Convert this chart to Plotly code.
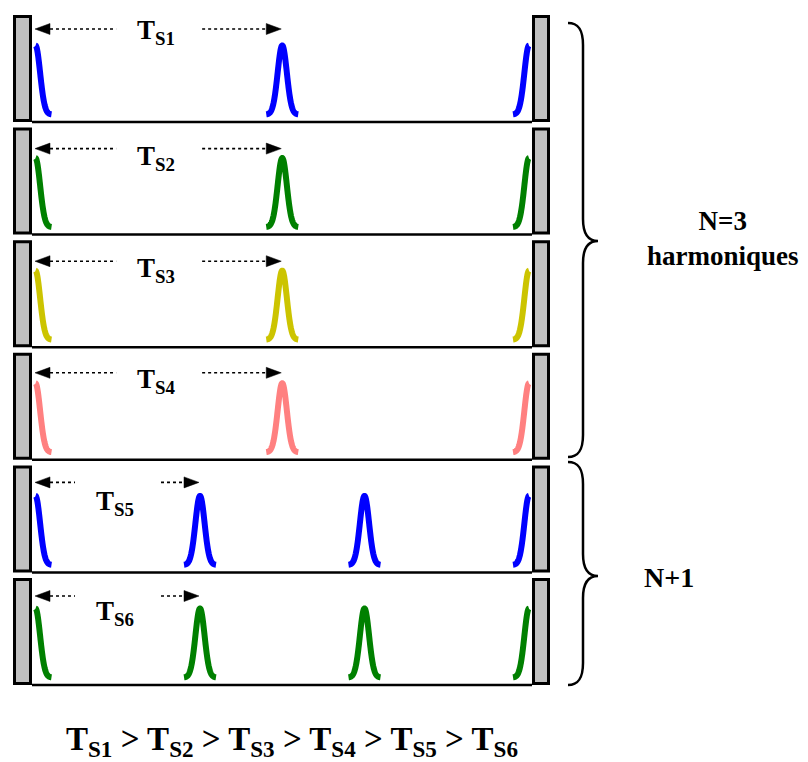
import numpy as np
import plotly.graph_objects as go

# ---------------- data ----------------
row_labels = ["T<sub>S1</sub>", "T<sub>S2</sub>", "T<sub>S3</sub>", "T<sub>S4</sub>", "T<sub>S5</sub>", "T<sub>S6</sub>"]
row_colors = ["#0000FF", "#008000", "#CCC400", "#FF8080", "#0000FF", "#008000"]
# pulse positions as fraction of the cavity length
half_pos = [0.0, 0.5, 1.0]
third_pos = [0.0, 1 / 3, 2 / 3, 1.0]
row_pulses = [half_pos, half_pos, half_pos, half_pos, third_pos, third_pos]
group_labels = ["N=3<br>harmoniques", "N+1"]
bottom_text = "T<sub>S1</sub> > T<sub>S2</sub> > T<sub>S3</sub> > T<sub>S4</sub> > T<sub>S5</sub> > T<sub>S6</sub>"

# ---------------- geometry ----------------
W, H = 808, 762
row_top0, row_pitch, row_h = 15, 112.6, 107
mirL = (13, 32)
mirR = (532, 550)
cav0, cav1 = 35.5, 529
arrow_dy = [14, 21, 21, 20, 17, 18]
label_dy = [17, 30, 30, 28, 38, 35]
peak_top, peak_base = 30.5, 99.5
sigma, foot = 4.6, 16

fig = go.Figure()
shapes = []
annotations = []


def pulse(c, side):
    if side == "L":
        dx = np.linspace(0, foot, 80)
    elif side == "R":
        dx = np.linspace(-foot, 0, 80)
    else:
        dx = np.linspace(-foot, foot, 160)
    return c + dx, np.exp(-dx ** 2 / (2 * sigma ** 2))


for i, (lab, col, pos) in enumerate(zip(row_labels, row_colors, row_pulses)):
    top = row_top0 + row_pitch * i
    bot = top + row_h
    # pulses
    for p in pos:
        c = cav0 + p * (cav1 - cav0)
        side = "L" if p == 0 else ("R" if p == 1 else "C")
        xs, g = pulse(c, side)
        ys = top + peak_base - g * (peak_base - peak_top)
        fig.add_trace(go.Scatter(x=xs, y=ys, mode="lines",
                                 line=dict(color=col, width=6, simplify=False),
                                 hoverinfo="skip", showlegend=False))
    # baseline of cavity
    shapes.append(dict(type="line", x0=mirL[1], x1=mirR[0], y0=bot, y1=bot,
                       line=dict(color="black", width=2.5), layer="above"))
    # mirrors
    for m in (mirL, mirR):
        shapes.append(dict(type="rect", x0=m[0] + 1.5, x1=m[1] - 1.5, y0=top + 1.5, y1=bot - 1.5,
                           fillcolor="#C0C0C0", line=dict(color="black", width=3), layer="above"))
    # arrow from the mirror to the first pulse
    x_first = cav0 + pos[1] * (cav1 - cav0)
    xa, xb = 35, x_first - 1
    ya = top + arrow_dy[i]
    gc = (xa + xb) / 2 + 1
    hl, hw = 15, 5.5
    shapes.append(dict(type="path", path=f"M {xa},{ya} L {xa+hl},{ya-hw} L {xa+hl},{ya+hw} Z",
                       fillcolor="black", line=dict(color="black", width=0.5)))
    shapes.append(dict(type="path", path=f"M {xb},{ya} L {xb-hl},{ya-hw} L {xb-hl},{ya+hw} Z",
                       fillcolor="black", line=dict(color="black", width=0.5)))
    shapes.append(dict(type="line", x0=xa + hl, x1=gc - 43, y0=ya, y1=ya,
                       line=dict(color="black", width=1.6, dash="dot")))
    shapes.append(dict(type="line", x0=gc + 43, x1=xb - hl, y0=ya, y1=ya,
                       line=dict(color="black", width=1.6, dash="dot")))
    annotations.append(dict(x=gc - 3, y=top + label_dy[i], text="<b>" + lab + "</b>", showarrow=False,
                            xanchor="center", yanchor="middle",
                            font=dict(family="Liberation Serif", size=27, color="black")))

# braces
def brace(x0, top, bot, mid, w1=15, w2=30):
    x1, x2 = x0 + w1, x0 + w2
    return (f"M {x0},{top} C {x0+10},{top} {x1},{top+6} {x1},{top+22} "
            f"L {x1},{mid-22} C {x1},{mid-6} {x1+6},{mid} {x2},{mid} "
            f"C {x1+6},{mid} {x1},{mid+6} {x1},{mid+22} "
            f"L {x1},{bot-22} C {x1},{bot-6} {x0+10},{bot} {x0},{bot}")

shapes.append(dict(type="path", path=brace(568, 23, 457, 241), line=dict(color="black", width=2.5)))
shapes.append(dict(type="path", path=brace(568, 462, 685, 576), line=dict(color="black", width=2.5)))

annotations.append(dict(x=723, y=238, text="<b>" + group_labels[0] + "</b>", showarrow=False,
                        xanchor="center", yanchor="middle", align="center",
                        font=dict(family="Liberation Serif", size=27, color="black")))
annotations.append(dict(x=669, y=577, text="<b>" + group_labels[1] + "</b>", showarrow=False,
                        xanchor="center", yanchor="middle",
                        font=dict(family="Liberation Serif", size=28, color="black")))
annotations.append(dict(x=292, y=741, text="<b>" + bottom_text + "</b>", showarrow=False,
                        xanchor="center", yanchor="middle",
                        font=dict(family="Liberation Serif", size=33, color="black")))

fig.update_layout(
    width=W, height=H, margin=dict(l=0, r=0, t=0, b=0),
    paper_bgcolor="white", plot_bgcolor="white",
    xaxis=dict(range=[0, W], visible=False, fixedrange=True),
    yaxis=dict(range=[H, 0], visible=False, fixedrange=True),
    shapes=shapes, annotations=annotations, showlegend=False,
)
fig.write_html("out.html", config={"displayModeBar": False},
               post_script="document.body.style.margin='0px';document.body.style.overflow='hidden';")
